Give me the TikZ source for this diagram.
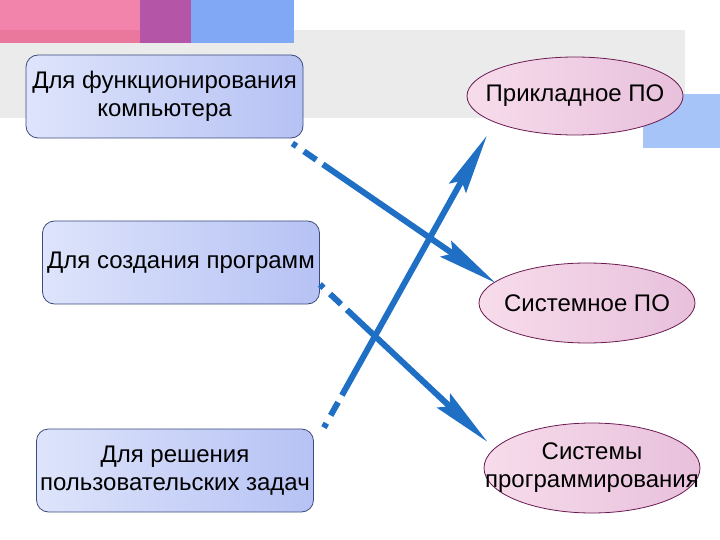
\documentclass[tikz,border=0pt]{standalone}
\usepackage{fontspec}
\setmainfont{Liberation Sans}
\usetikzlibrary{arrows.meta,shapes.geometric}
\definecolor{pinkA}{HTML}{F283AA}
\definecolor{pinkB}{HTML}{E9789C}
\definecolor{purpleA}{HTML}{B455A8}
\definecolor{blueA}{HTML}{80A8F5}
\definecolor{blueR}{HTML}{A6C4F8}
\definecolor{grayband}{HTML}{EBEBEB}
\definecolor{boxL}{HTML}{DEE4FB}
\definecolor{boxR}{HTML}{B6C2F4}
\definecolor{boxB}{HTML}{3C4C7C}
\definecolor{ellL}{HTML}{F7DCEB}
\definecolor{ellR}{HTML}{E8C0DC}
\definecolor{ellB}{HTML}{6A1A50}
\definecolor{arrowblue}{HTML}{1F6FC5}
\begin{document}
\begin{tikzpicture}[x=1pt,y=-1pt,
  boxnode/.style={rectangle, rounded corners=12pt, draw=boxB, line width=0.8pt,
    left color=boxL, right color=boxR, minimum width=277pt, minimum height=83pt,
    inner sep=0pt, align=center, font=\fontsize{24}{28}\selectfont},
  ellnode/.style={ellipse, draw=ellB, line width=0.8pt, left color=ellL, right color=ellR,
    minimum width=216pt, minimum height=80pt, inner sep=0pt},
  elltext/.style={align=center, inner sep=0pt, font=\fontsize{24}{28}\selectfont},
  conn/.style={line width=6pt, draw=arrowblue,
    dash pattern=on 5pt off 9pt on 15pt off 8pt on 3000pt,
    -{Stealth[length=60pt,width=19pt,inset=8pt]}}]
\useasboundingbox (0,0) rectangle (720,540);
% decoration
\fill[grayband] (0,30) rectangle (685,118);
\fill[blueR] (643,94) rectangle (720,148);
\fill[pinkA] (0,0) rectangle (140,30);
\fill[pinkB] (0,30) rectangle (140,43);
\fill[purpleA] (140,0) rectangle (191,43);
\fill[blueA] (191,0) rectangle (294,43);
% boxes
\node[boxnode] (b1) at (164.5,96.5) {Для функционирования\\компьютера};
\node[boxnode] (b2) at (181,262.5) {Для создания программ};
\node[boxnode] (b3) at (175,470.5) {Для решения\\пользовательских задач};
% ellipses
\node[ellnode, minimum height=78pt] (e1) at (575,96) {};
\node[elltext] (t1) at (e1.center) {Прикладное ПО};
\node[ellnode] (e2) at (587,303) {};
\node[elltext] (t2) at (e2.center) {Системное ПО};
\node[ellnode, minimum height=90pt] (e3) at (592,468) {};
\node[elltext] (t3) at (e3.center) {Системы\\программирования};
% connectors
\draw[conn] ([shift={(-11,5)}]b1.south east) -- ([shift={(17,-20)}]e2.west);
\draw[conn] ([shift={(0,-20)}]b2.south east) -- ([shift={(4,-26)}]e3.west);
\draw[conn] ([shift={(10,-1)}]b3.north east) -- ([xshift=-88pt]e1.south);
\end{tikzpicture}
\end{document}
